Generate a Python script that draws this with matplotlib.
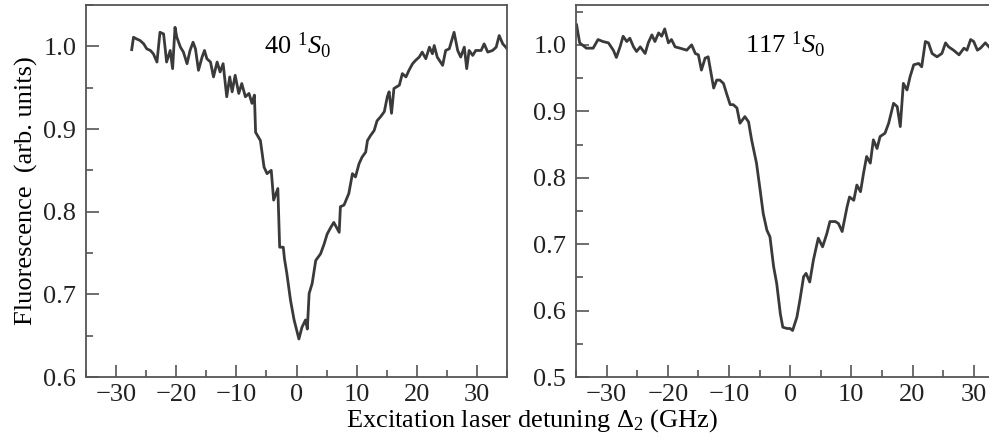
import matplotlib
matplotlib.use("Agg")
import matplotlib.pyplot as plt
from matplotlib.ticker import MultipleLocator

plt.rcParams["font.family"] = ["Liberation Serif", "DejaVu Serif"]
plt.rcParams["mathtext.fontset"] = "custom"
plt.rcParams["mathtext.rm"] = "Liberation Serif"
plt.rcParams["mathtext.it"] = "Liberation Serif:italic"

LINE = "#3a3a3a"
SPINE = "#555555"

# 40 1S0 scan
det_40 = [-27.4, -27.1, -26.6, -26.0, -25.4, -24.9, -24.3, -23.8, -23.2, -22.7,
          -22.1, -21.8, -21.6, -21.0, -20.6, -20.2, -19.9, -19.3, -18.8, -18.2,
          -17.7, -17.2, -16.8, -16.3, -15.7, -15.3, -14.9, -14.3, -13.8, -13.2,
          -12.7, -12.2, -11.6, -11.1, -10.7, -10.2, -9.6, -9.1, -8.5, -7.9,
          -7.4, -7.0, -6.8, -6.0, -5.4, -4.9, -4.2, -3.8, -3.1, -2.8,
          -2.2, -2.0, -1.6, -1.0, -0.4, 0.4, 0.9, 1.5, 1.8, 2.1,
          2.6, 3.2, 4.0, 4.6, 5.1, 5.7, 6.2, 7.1, 7.3, 7.9,
          8.7, 9.3, 9.8, 10.4, 10.9, 11.5, 11.8, 12.3, 12.9, 13.4,
          14.0, 14.6, 15.1, 15.4, 15.8, 16.2, 17.1, 17.6, 18.2, 18.7,
          19.3, 19.8, 20.4, 20.9, 21.5, 22.1, 22.6, 22.9, 23.4, 24.3,
          24.8, 25.4, 26.2, 26.8, 27.3, 27.9, 28.3, 28.7, 29.3, 29.8,
          30.7, 31.2, 31.8, 32.6, 33.2, 33.7, 34.3, 34.8, 35.0]
fl_40 = [0.996, 1.011, 1.009, 1.007, 1.003, 0.997, 0.995, 0.991, 0.981, 1.017,
         1.015, 0.995, 0.981, 0.995, 0.973, 1.023, 1.011, 0.999, 0.993, 0.979,
         0.995, 1.005, 0.997, 0.971, 0.987, 0.995, 0.985, 0.981, 0.963, 0.981,
         0.969, 0.979, 0.939, 0.963, 0.945, 0.965, 0.943, 0.955, 0.939, 0.943,
         0.931, 0.941, 0.896, 0.886, 0.854, 0.846, 0.850, 0.814, 0.828, 0.757,
         0.757, 0.743, 0.725, 0.693, 0.669, 0.646, 0.660, 0.669, 0.658, 0.701,
         0.713, 0.741, 0.749, 0.761, 0.773, 0.781, 0.787, 0.775, 0.806, 0.808,
         0.822, 0.846, 0.842, 0.858, 0.866, 0.872, 0.886, 0.892, 0.898, 0.910,
         0.915, 0.921, 0.939, 0.945, 0.919, 0.949, 0.953, 0.967, 0.963, 0.971,
         0.979, 0.983, 0.987, 0.993, 0.985, 0.999, 0.991, 1.001, 0.987, 0.977,
         0.995, 0.997, 1.017, 0.995, 0.987, 0.999, 0.973, 0.995, 0.989, 0.995,
         0.995, 1.003, 0.993, 0.995, 0.999, 1.013, 1.003, 0.999, 0.997]

# 117 1S0 scan
det_117 = [-34.9, -34.4, -33.3, -32.2, -31.4, -30.6, -29.7, -28.9, -28.4, -27.8,
           -27.3, -26.7, -26.2, -25.6, -25.1, -24.5, -23.7, -23.2, -22.6, -22.1,
           -21.5, -21.0, -20.5, -19.9, -19.4, -18.8, -18.0, -16.9, -16.1, -15.5,
           -15.0, -14.5, -13.9, -13.4, -12.5, -12.0, -11.5, -10.9, -10.4, -9.8,
           -9.3, -8.7, -8.2, -7.4, -6.8, -6.3, -5.5, -4.9, -4.4, -3.8,
           -3.3, -2.7, -2.2, -1.6, -1.2, -0.5, 0.0, 0.4, 1.1, 1.6,
           2.2, 2.6, 3.2, 3.8, 4.4, 4.6, 5.3, 6.0, 6.5, 7.4,
           7.9, 8.5, 9.3, 9.7, 10.4, 10.9, 11.5, 12.0, 12.5, 13.1,
           13.6, 14.2, 14.7, 15.5, 16.1, 16.9, 17.5, 18.0, 18.5, 19.1,
           19.6, 20.2, 21.0, 21.5, 22.1, 22.6, 23.2, 24.0, 24.8, 25.4,
           25.9, 26.7, 27.6, 28.4, 28.9, 29.5, 30.0, 30.6, 31.1, 31.9, 32.5]
fl_117 = [1.030, 1.003, 0.995, 0.995, 1.008, 1.005, 1.003, 0.992, 0.981, 0.997,
          1.013, 1.005, 1.010, 0.997, 0.990, 0.997, 0.987, 1.003, 1.015, 1.005,
          1.018, 1.013, 1.024, 1.003, 1.008, 0.997, 0.995, 0.992, 1.000, 0.987,
          0.985, 0.962, 0.980, 0.982, 0.935, 0.947, 0.947, 0.942, 0.927, 0.910,
          0.910, 0.905, 0.882, 0.892, 0.884, 0.857, 0.822, 0.781, 0.746, 0.721,
          0.711, 0.666, 0.641, 0.595, 0.575, 0.573, 0.573, 0.570, 0.590, 0.616,
          0.651, 0.656, 0.643, 0.676, 0.701, 0.709, 0.696, 0.716, 0.734, 0.734,
          0.731, 0.719, 0.756, 0.771, 0.766, 0.789, 0.779, 0.807, 0.832, 0.822,
          0.857, 0.844, 0.862, 0.867, 0.882, 0.912, 0.907, 0.877, 0.942, 0.932,
          0.952, 0.970, 0.972, 0.967, 1.005, 1.003, 0.987, 0.982, 0.987, 1.003,
          0.997, 0.992, 0.985, 0.995, 0.992, 1.008, 1.005, 0.992, 0.995, 1.003, 0.997]

fig = plt.figure(figsize=(9.89, 4.43), dpi=100)
ax1 = fig.add_axes([86 / 989, 1 - 377 / 443, 421 / 989, 372 / 443])
ax2 = fig.add_axes([576 / 989, 1 - 377 / 443, 413 / 989, 372 / 443])


def style(ax):
    for spine in ax.spines.values():
        spine.set_color(SPINE)
        spine.set_linewidth(1.3)
    ax.xaxis.set_major_locator(MultipleLocator(10))
    ax.xaxis.set_minor_locator(MultipleLocator(5))
    ax.tick_params(which="both", direction="in", top=False, right=False,
                   colors=SPINE, labelcolor="#222222", labelsize=19, width=1.2)
    ax.tick_params(which="major", length=9)
    ax.tick_params(which="minor", length=5)
    ax.tick_params(axis="y", pad=7)
    ax.tick_params(axis="x", pad=5)


ax1.plot(det_40, fl_40, color=LINE, lw=2.0)
ax1.set_xlim(-35, 35)
ax1.set_ylim(0.6, 1.05)
ax1.set_yticks([0.6, 0.7, 0.8, 0.9, 1.0])
ax1.set_yticklabels(["0.6", "0.7", "0.8", "0.9", "1.0"])
ax1.yaxis.set_minor_locator(MultipleLocator(0.05))
style(ax1)
ax1.text(0.2, 1.0, r"40 $^{1}\mathit{S}_{0}$", fontsize=19, ha="center", va="center")
ax1.set_ylabel("Fluorescence  (arb. units)", fontsize=19, labelpad=4)

ax2.plot(det_117, fl_117, color=LINE, lw=2.0)
ax2.set_xlim(-35, 32.5)
ax2.set_ylim(0.5, 1.06)
ax2.set_yticks([0.5, 0.6, 0.7, 0.8, 0.9, 1.0])
ax2.set_yticklabels(["0.5", "0.6", "0.7", "0.8", "0.9", "1.0"])
ax2.yaxis.set_minor_locator(MultipleLocator(0.05))
style(ax2)
ax2.spines["right"].set_visible(False)
ax2.text(-0.8, 1.0, r"117 $^{1}\mathit{S}_{0}$", fontsize=19, ha="center", va="center")

fig.text(532 / 989, 1 - 421 / 443, r"Excitation laser detuning $\Delta_2$ (GHz)",
         fontsize=19, ha="center", va="center")

fig.savefig("out.png", dpi=100)
